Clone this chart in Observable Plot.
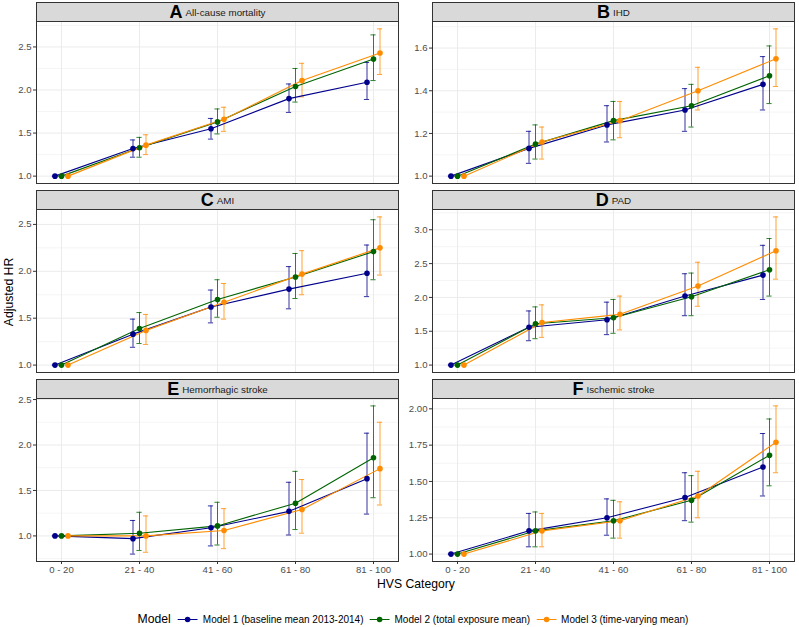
<!DOCTYPE html>
<html><head><meta charset="utf-8">
<script src="https://cdn.jsdelivr.net/npm/d3@7"></script>
<script src="https://cdn.jsdelivr.net/npm/@observablehq/plot@0.6"></script>
<style>
body{margin:0;background:#fff;font-family:"Liberation Sans",Arial,Helvetica,sans-serif;}
#root{position:relative;width:799px;height:627px;overflow:hidden;background:#fff;}
.strip{position:absolute;box-sizing:border-box;background:#d9d9d9;border:1px solid #333;height:20px;text-align:center;line-height:18px;font-size:9.8px;color:#1a1a1a;white-space:nowrap;}
.strip b{font-size:18px;font-weight:bold;color:#000;vertical-align:-2px;margin-right:3px;}
.facet{position:absolute;}
.ytitle{position:absolute;left:9px;top:292px;transform:translate(-50%,-50%) rotate(-90deg);font-size:12.2px;color:#000;white-space:nowrap;}
.xtitle{position:absolute;left:416px;top:584px;transform:translate(-50%,-50%);font-size:12.2px;color:#000;white-space:nowrap;}
.legend{position:absolute;left:416px;top:619px;width:max-content;transform:translate(-50%,-50%);display:flex;align-items:center;white-space:nowrap;font-size:10px;color:#000;}
.legend .ttl{font-size:12.2px;margin-right:7px;}
.legend .item{display:flex;align-items:center;margin-right:6px;flex-shrink:0;}
.legend svg{margin-right:6px;flex-shrink:0;}
</style>
</head><body>
<div id="root"></div>
<script>
const categories = ["0 - 20", "21 - 40", "41 - 60", "61 - 80", "81 - 100"];
const models = ["Model 1 (baseline mean 2013-2014)", "Model 2 (total exposure mean)", "Model 3 (time-varying mean)"];
const letters = ["A", "B", "C", "D", "E", "F"];
const outcomes = ["All-cause mortality", "IHD", "AMI", "PAD", "Hemorrhagic stroke", "Ischemic stroke"];
const colors = ["#00008B", "#006400", "#FF8C00"];

// HR, lower CI, upper CI per model (rows: Model 1, 2, 3)
const allcauseHR = [[1.00, 1.32, 1.55, 1.90, 2.09], [1.00, 1.33, 1.63, 2.04, 2.36], [1.00, 1.36, 1.66, 2.11, 2.43]];
const allcauseLo = [[1.00, 1.22, 1.43, 1.74, 1.89], [1.00, 1.22, 1.49, 1.86, 2.11], [1.00, 1.25, 1.52, 1.92, 2.18]];
const allcauseHi = [[1.00, 1.42, 1.67, 2.07, 2.32], [1.00, 1.45, 1.78, 2.25, 2.64], [1.00, 1.48, 1.80, 2.31, 2.71]];

const ihdHR = [[1.00, 1.13, 1.24, 1.31, 1.43], [1.00, 1.15, 1.26, 1.33, 1.47], [1.00, 1.16, 1.26, 1.40, 1.55]];
const ihdLo = [[1.00, 1.06, 1.16, 1.21, 1.31], [1.00, 1.08, 1.17, 1.23, 1.34], [1.00, 1.08, 1.18, 1.31, 1.42]];
const ihdHi = [[1.00, 1.21, 1.33, 1.41, 1.56], [1.00, 1.24, 1.35, 1.43, 1.61], [1.00, 1.23, 1.35, 1.51, 1.69]];

const amiHR = [[1.00, 1.33, 1.62, 1.81, 1.98], [1.00, 1.39, 1.70, 1.94, 2.21], [1.00, 1.37, 1.67, 1.97, 2.25]];
const amiLo = [[1.00, 1.19, 1.45, 1.60, 1.73], [1.00, 1.23, 1.51, 1.71, 1.91], [1.00, 1.22, 1.49, 1.75, 1.96]];
const amiHi = [[1.00, 1.49, 1.80, 2.05, 2.28], [1.00, 1.56, 1.91, 2.19, 2.55], [1.00, 1.54, 1.87, 2.22, 2.58]];

const padHR = [[1.00, 1.56, 1.67, 2.02, 2.33], [1.00, 1.61, 1.70, 2.01, 2.41], [1.00, 1.63, 1.75, 2.17, 2.69]];
const padLo = [[1.00, 1.36, 1.45, 1.73, 1.97], [1.00, 1.39, 1.47, 1.73, 2.02], [1.00, 1.41, 1.52, 1.87, 2.27]];
const padHi = [[1.00, 1.80, 1.93, 2.35, 2.77], [1.00, 1.86, 1.97, 2.36, 2.87], [1.00, 1.89, 2.02, 2.52, 3.19]];

const hemHR = [[1.00, 0.97, 1.09, 1.27, 1.63], [1.00, 1.03, 1.11, 1.36, 1.86], [1.00, 1.00, 1.06, 1.29, 1.74]];
const hemLo = [[1.00, 0.80, 0.89, 1.01, 1.24], [1.00, 0.84, 0.90, 1.07, 1.42], [1.00, 0.82, 0.86, 1.03, 1.34]];
const hemHi = [[1.00, 1.17, 1.33, 1.59, 2.13], [1.00, 1.26, 1.37, 1.71, 2.43], [1.00, 1.22, 1.30, 1.62, 2.25]];

const iscHR = [[1.00, 1.16, 1.25, 1.39, 1.60], [1.00, 1.16, 1.23, 1.37, 1.68], [1.00, 1.16, 1.23, 1.40, 1.77]];
const iscLo = [[1.00, 1.05, 1.13, 1.23, 1.40], [1.00, 1.05, 1.11, 1.22, 1.47], [1.00, 1.05, 1.11, 1.25, 1.56]];
const iscHi = [[1.00, 1.28, 1.38, 1.56, 1.83], [1.00, 1.29, 1.37, 1.54, 1.93], [1.00, 1.28, 1.36, 1.57, 2.02]];

const ticksA = [1.0, 1.5, 2.0, 2.5];
const ticksB = [1.0, 1.2, 1.4, 1.6];
const ticksC = [1.0, 1.5, 2.0, 2.5];
const ticksD = [1.0, 1.5, 2.0, 2.5, 3.0];
const ticksE = [1.0, 1.5, 2.0, 2.5];
const ticksF = [1.00, 1.25, 1.50, 1.75, 2.00];

const panels = [
  {hr: allcauseHR, lo: allcauseLo, hi: allcauseHi, ticks: ticksA, fmt: d3.format(".1f")},
  {hr: ihdHR, lo: ihdLo, hi: ihdHi, ticks: ticksB, fmt: d3.format(".1f")},
  {hr: amiHR, lo: amiLo, hi: amiHi, ticks: ticksC, fmt: d3.format(".1f")},
  {hr: padHR, lo: padLo, hi: padHi, ticks: ticksD, fmt: d3.format(".1f")},
  {hr: hemHR, lo: hemLo, hi: hemHi, ticks: ticksE, fmt: d3.format(".1f")},
  {hr: iscHR, lo: iscLo, hi: iscHi, ticks: ticksF, fmt: d3.format(".2f")}
];

const dodge = [-6.5, 0, 6.5];
const capHalf = 2.6;

const root = document.getElementById("root");
const colLeft = [6, 402];
const rowPlotTop = [21, 209, 398];
const rowPlotH = [162, 163, 163];
const FONT = '"Liberation Sans", Arial, Helvetica, sans-serif';

panels.forEach((p, i) => {
  const col = i % 2, row = Math.floor(i / 2);
  const bottom = row === 2;
  const rows = [];
  models.forEach((m, mi) => categories.forEach((c, ci) => rows.push({model: m, mi, cat: c, hr: p.hr[mi][ci], lo: p.lo[mi][ci], hi: p.hi[mi][ci]})));
  const ymin = d3.min(rows, d => d.lo), ymax = d3.max(rows, d => d.hi);
  const pad = (ymax - ymin) * 0.05;
  const dom = [ymin - pad, ymax + pad];
  const step = p.ticks[1] - p.ticks[0];
  const minor = [p.ticks[0] - step / 2, ...p.ticks.map(t => t + step / 2)].filter(v => v > dom[0] && v < dom[1]);

  const marks = [
    Plot.gridY(minor, {stroke: "#ebebeb", strokeOpacity: 1, strokeWidth: 0.5}),
    Plot.gridY(p.ticks.filter(v => v >= dom[0] && v <= dom[1]), {stroke: "#ebebeb", strokeOpacity: 1, strokeWidth: 1}),
    Plot.gridX(categories, {stroke: "#ebebeb", strokeOpacity: 1, strokeWidth: 1})
  ];
  models.forEach((m, mi) => {
    const data = rows.filter(d => d.mi === mi);
    const st = {stroke: colors[mi], strokeOpacity: 0.8, strokeWidth: 1, dx: dodge[mi]};
    marks.push(Plot.ruleX(data, {x: "cat", y1: "lo", y2: "hi", ...st}));
    marks.push(Plot.ruleY(data, {x1: "cat", x2: "cat", y: "lo", insetLeft: -capHalf, insetRight: -capHalf, ...st}));
    marks.push(Plot.ruleY(data, {x1: "cat", x2: "cat", y: "hi", insetLeft: -capHalf, insetRight: -capHalf, ...st}));
  });
  models.forEach((m, mi) => {
    const data = rows.filter(d => d.mi === mi);
    marks.push(Plot.line(data, {x: "cat", y: "hr", stroke: colors[mi], strokeWidth: 1.1, dx: dodge[mi]}));
  });
  models.forEach((m, mi) => {
    const data = rows.filter(d => d.mi === mi);
    marks.push(Plot.dot(data, {x: "cat", y: "hr", fill: colors[mi], r: 2.8, stroke: "none", dx: dodge[mi]}));
  });
  marks.push(Plot.frame({stroke: "#333", strokeWidth: 1}));
  marks.push(Plot.axisY(p.ticks, {tickFormat: p.fmt, tickSize: 3, tickPadding: 2, stroke: "#333", fill: "#4d4d4d", fontSize: 9.6, label: null}));
  if (bottom) marks.push(Plot.axisX(categories, {tickSize: 3, tickPadding: 2, stroke: "#333", fill: "#4d4d4d", fontSize: 9.6, label: null}));

  const mt = 6, mb = bottom ? 24 : 6;
  const chart = Plot.plot({
    width: 393,
    height: mt + rowPlotH[row] + mb,
    marginLeft: 30, marginRight: 1, marginTop: mt, marginBottom: mb,
    style: {fontFamily: FONT, background: "transparent", overflow: "visible"},
    x: {type: "point", domain: categories, padding: 0.32, axis: null},
    y: {domain: dom, axis: null},
    marks
  });
  const div = document.createElement("div");
  div.className = "facet";
  div.style.left = colLeft[col] + "px";
  div.style.top = (rowPlotTop[row] - mt) + "px";
  div.appendChild(chart);
  root.appendChild(div);

  const strip = document.createElement("div");
  strip.className = "strip";
  strip.style.left = (colLeft[col] + 30) + "px";
  strip.style.width = "363px";
  strip.style.top = (rowPlotTop[row] - 19) + "px";
  const b = document.createElement("b");
  b.textContent = letters[i];
  strip.appendChild(b);
  strip.appendChild(document.createTextNode(outcomes[i]));
  root.appendChild(strip);
});

const yt = document.createElement("div"); yt.className = "ytitle"; yt.textContent = "Adjusted HR"; root.appendChild(yt);
const xt = document.createElement("div"); xt.className = "xtitle"; xt.textContent = "HVS Category"; root.appendChild(xt);

const leg = document.createElement("div"); leg.className = "legend";
const lt = document.createElement("span"); lt.className = "ttl"; lt.textContent = "Model"; leg.appendChild(lt);
models.forEach((m, mi) => {
  const it = document.createElement("div"); it.className = "item";
  const key = Plot.plot({
    width: 19, height: 10, margin: 0,
    style: {background: "transparent", overflow: "visible"},
    x: {domain: [0, 1], axis: null}, y: {domain: [0, 1], axis: null},
    marks: [
      Plot.line([{x: 0, y: 0.5}, {x: 1, y: 0.5}], {x: "x", y: "y", stroke: colors[mi], strokeWidth: 1.1}),
      Plot.dot([{x: 0.5, y: 0.5}], {x: "x", y: "y", fill: colors[mi], r: 2.8})
    ]
  });
  it.appendChild(key);
  const s = document.createElement("span"); s.textContent = m; it.appendChild(s);
  leg.appendChild(it);
});
root.appendChild(leg);
</script>
</body></html>
